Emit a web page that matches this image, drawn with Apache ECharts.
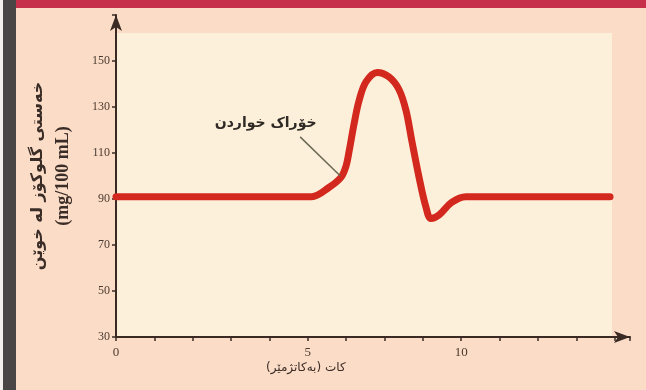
<!DOCTYPE html>
<html>
<head>
<meta charset="utf-8">
<script src="https://cdn.jsdelivr.net/npm/echarts@6/dist/echarts.min.js"></script>
<style>
    html, body { margin: 0; padding: 0; background: #fbdcc7; }
    #chart { width: 646px; height: 390px; }
</style>
</head>
<body>
<div id="chart"></div>
<script>
// time (ticks along the axis) and blood glucose (mg/100 mL)
const timeValues = [0, 5.1, 5.55, 5.87, 6.0, 6.08, 6.21, 6.34, 6.52, 6.81, 7.12, 7.38, 7.56, 7.71, 7.9, 8.08, 8.21, 8.42, 8.75, 9.12, 12.88];
const glucoseValues = [91, 91, 95, 99.5, 104.5, 111, 123, 133, 141, 145, 143, 137.5, 128.5, 115.5, 99.5, 86.5, 81.5, 83, 88.5, 91, 91];
const xTickLabels = ['0', '', '', '', '', '5', '', '', '', '10', '', '', '', ''];
const yTickLabels = [30, 50, 70, 90, 110, 130, 150];
const mealLabel = 'خۆراک خواردن';
const mealPointer = [[4.8, 117], [5.85, 100]];

const chart = echarts.init(document.getElementById('chart'));
chart.setOption({
    backgroundColor: '#fbdcc7',
    animation: false,
    grid: {
        left: 116,
        right: 16,
        top: 15,
        bottom: 53
    },
    graphic: [
        // frame pieces of the printed page
        { type: 'rect', z: -1, shape: { x: 0, y: 0, width: 3, height: 390 }, style: { fill: '#f4f0ee' } },
        { type: 'rect', z: -1, shape: { x: 3, y: 0, width: 13, height: 390 }, style: { fill: '#4a4646' } },
        { type: 'rect', z: -1, shape: { x: 16, y: 0, width: 630, height: 8 }, style: { fill: '#c6304a' } },
        { type: 'rect', z: -1, shape: { x: 117, y: 33, width: 495, height: 304 }, style: { fill: '#fdf0db' } },
        {
            type: 'text',
            left: 266,
            top: 362,
            style: {
                text: 'کات (بەکاتژمێر)',
                font: '12px "DejaVu Sans"',
                fill: '#3a2c26'
            }
        }
    ],
    xAxis: {
        type: 'value',
        min: 0,
        max: 13.4,
        interval: 1,
        splitLine: { show: false },
        axisLine: {
            lineStyle: { color: '#3a2a24', width: 2 },
            symbol: ['none', 'arrow'],
            symbolSize: [9, 16]
        },
        axisTick: { length: 4, lineStyle: { color: '#3a2a24', width: 1.5 } },
        axisLabel: {
            margin: 9,
            color: '#4a3a30',
            fontFamily: 'Liberation Serif',
            fontSize: 13,
            formatter: v => xTickLabels[v] ?? ''
        }
    },
    yAxis: {
        type: 'value',
        min: 30,
        max: 170,
        interval: 20,
        splitLine: { show: false },
        axisLine: {
            lineStyle: { color: '#3a2a24', width: 2 },
            symbol: ['none', 'arrow'],
            symbolSize: [9, 16]
        },
        axisTick: { length: 4, lineStyle: { color: '#3a2a24', width: 1.5 } },
        axisLabel: {
            margin: 6,
            color: '#4a3a30',
            fontFamily: 'Liberation Serif',
            fontSize: 12,
            formatter: v => yTickLabels.includes(v) ? String(v) : ''
        },
        name: '{a|خەستی گلوکۆز لە خوێن}\n{b|(mg/100 mL)}',
        nameLocation: 'middle',
        nameGap: 42,
        nameTextStyle: {
            rich: {
                a: { fontFamily: 'DejaVu Sans', fontSize: 16, fontWeight: 'bold', color: '#3a2c26', lineHeight: 28 },
                b: { fontFamily: 'Liberation Serif', fontSize: 18, fontWeight: 'bold', color: '#3a2c26', lineHeight: 22 }
            }
        }
    },
    series: [
        {
            type: 'line',
            data: timeValues.map((t, i) => [t, glucoseValues[i]]),
            smooth: 0.35,
            showSymbol: false,
            lineStyle: { color: '#d2281d', width: 7, cap: 'round' },
            markLine: {
                silent: true,
                symbol: 'none',
                label: { show: false },
                lineStyle: { color: '#6b6a55', width: 1.5, type: 'solid' },
                data: [[{ coord: mealPointer[0] }, { coord: mealPointer[1] }]]
            },
            markPoint: {
                silent: true,
                symbol: 'circle',
                symbolSize: 0,
                data: [{ coord: [3.9, 123], value: mealLabel }],
                label: {
                    show: true,
                    formatter: mealLabel,
                    color: '#2f2a25',
                    fontFamily: 'DejaVu Sans',
                    fontWeight: 'bold',
                    fontSize: 14
                }
            }
        }
    ]
});
</script>
</body>
</html>
